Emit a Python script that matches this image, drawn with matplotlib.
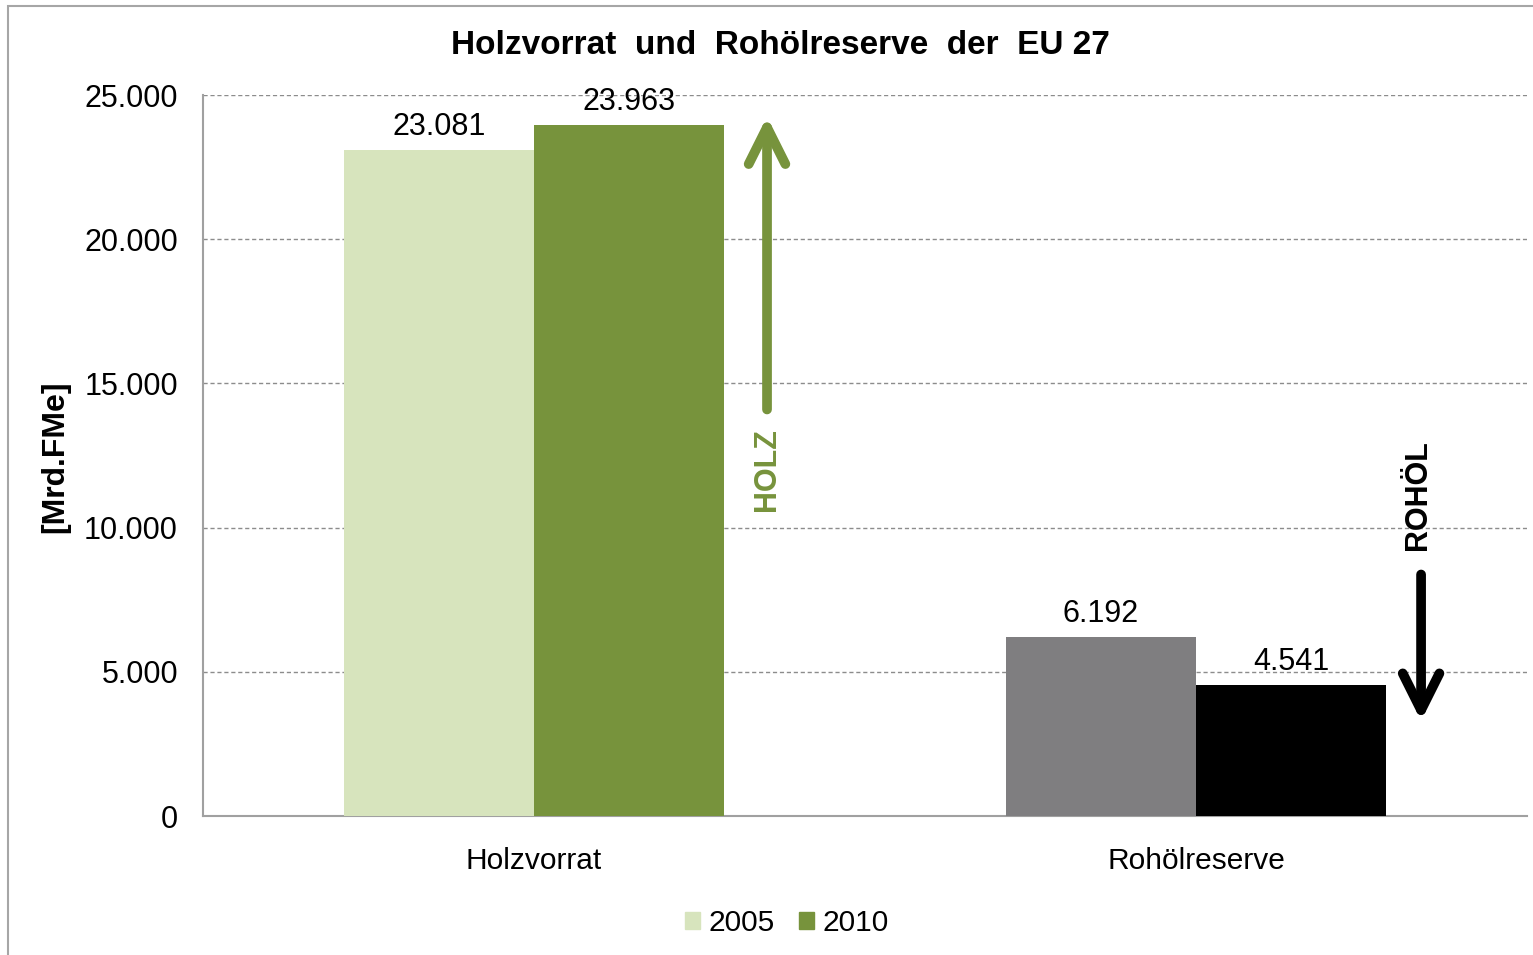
import matplotlib
matplotlib.use("Agg")
import matplotlib.pyplot as plt
from matplotlib.patches import Patch, Rectangle, FancyArrowPatch
import numpy as np

plt.rcParams['font.family'] = ['Liberation Sans', 'DejaVu Sans']

# data
categories = ["Holzvorrat", "Rohölreserve"]
years = ["2005", "2010"]
values_2005 = [23081, 6192]
values_2010 = [23963, 4541]
colors_2005 = ["#D7E4BD", "#7F7E80"]
colors_2010 = ["#77933C", "#000000"]
yticks = [0, 5000, 10000, 15000, 20000, 25000]


def de_format(v):
    return f"{v:,.0f}".replace(",", ".")


fig = plt.figure(figsize=(15.33, 9.55), dpi=100)
ax = fig.add_axes([203 / 1533, 139 / 955, 1324 / 1533, 721 / 955])

# outer chart border (runs off right/bottom edge like the original)
fig.patches.append(Rectangle((8 / 1533, -0.05), 1.2, 1 - 6 / 955 + 0.05,
                             transform=fig.transFigure, fill=False,
                             edgecolor="#A6A6A6", lw=1.5))

x = np.arange(len(categories))
w = 0.287
b1 = ax.bar(x - w / 2, values_2005, w, color=colors_2005, zorder=3)
b2 = ax.bar(x + w / 2, values_2010, w, color=colors_2010, zorder=3)

for bars, vals in ((b1, values_2005), (b2, values_2010)):
    for r, v in zip(bars, vals):
        ax.annotate(de_format(v), (r.get_x() + r.get_width() / 2, v),
                    xytext=(0, 6), textcoords="offset points",
                    ha="center", va="bottom", fontsize=22)

ax.set_xlim(-0.5, 1.5)
ax.set_ylim(0, 25000)
ax.set_yticks(yticks)
ax.set_yticklabels([de_format(t) for t in yticks])
ax.set_xticks(x)
ax.set_xticklabels(categories)
ax.tick_params(axis="y", length=0, pad=18, labelsize=22)
ax.tick_params(axis="x", length=0, pad=22, labelsize=21.5)

ax.grid(axis="y", color="#8C8C8C", ls=(0, (3, 2)), lw=1, zorder=0)
for t in ax.get_ygridlines()[:1]:
    t.set_visible(False)
for s in ("top", "right"):
    ax.spines[s].set_visible(False)
for s in ("left", "bottom"):
    ax.spines[s].set_color("#A0A0A0")
    ax.spines[s].set_linewidth(1.5)

# trend arrows
holz = FancyArrowPatch((0.352, 14000), (0.352, 24350),
                       arrowstyle="->, head_length=1.2, head_width=0.6",
                       mutation_scale=22, lw=7, color="#77933C", zorder=4)
ax.add_patch(holz)
ax.text(0.352, 12000, "HOLZ", rotation=90, ha="center", va="center",
        fontsize=22, fontweight="bold", color="#77933C")

rohoel = FancyArrowPatch((1.340, 8470), (1.340, 3200),
                         arrowstyle="->, head_length=1.2, head_width=0.6",
                         mutation_scale=22, lw=7, color="black", zorder=4)
ax.add_patch(rohoel)
ax.text(1.335, 11130, "ROHÖL", rotation=90, ha="center", va="center",
        fontsize=22, fontweight="bold", color="black")

fig.text(780 / 1533, 1 - 45 / 955, "Holzvorrat  und  Rohölreserve  der  EU 27",
         ha="center", va="center", fontsize=24, fontweight="bold")
fig.text(55 / 1533, 1 - 457 / 955, "[Mrd.FMe]", rotation=90,
         ha="center", va="center", fontsize=23, fontweight="bold")

handles = [Patch(color="#D7E4BD", label="2005"), Patch(color="#77933C", label="2010")]
fig.legend(handles=handles, loc="center", bbox_to_anchor=(787 / 1533, 1 - 923 / 955),
           ncol=2, frameon=False, fontsize=21.5, handlelength=0.5, handleheight=0.5,
           handletextpad=0.3, columnspacing=0.8)

fig.savefig("out.png", dpi=100)
